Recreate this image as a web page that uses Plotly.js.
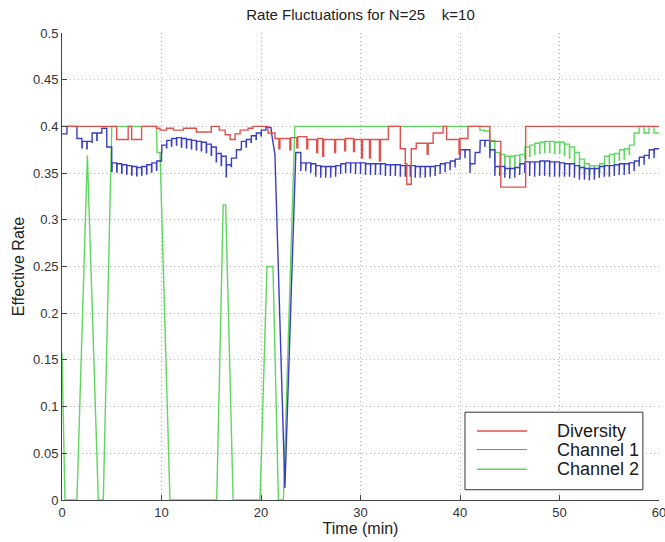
<!DOCTYPE html>
<html><head><meta charset="utf-8">
<script src="https://cdn.plot.ly/plotly-3.0.1.min.js"></script>
<style>html,body{margin:0;padding:0;background:#fff;}#chart{width:665px;height:542px;}</style>
</head><body><div id="chart"></div>
<script>
// ---------- data ----------
const seriesNames = ['Diversity', 'Channel 1', 'Channel 2'];
const seriesColors = ['#e0514d', '#3a3ec2', '#5fd65f'];
const xTickVals = [0, 10, 20, 30, 40, 50, 60];
const yTickVals = [0, 0.05, 0.1, 0.15, 0.2, 0.25, 0.3, 0.35, 0.4, 0.45, 0.5];
const yTickText = ['0', '0.05', '0.1', '0.15', '0.2', '0.25', '0.3', '0.35', '0.4', '0.45', '0.5'];

// Diversity: time (min) at which the rate changes, and the new rate
const divTime = [0, 5.5, 6.65, 7.0, 8.0, 9.5, 9.85, 10.5, 11.2, 12.2, 13.5, 15.0, 15.8, 16.4, 16.9, 17.4, 17.9, 18.7, 19.2, 20.7, 21.4,
  21.8, 21.9, 22.9, 23.0, 23.6, 23.7, 24.6, 24.7, 25.6, 25.7, 26.2, 26.3, 27.4, 27.5, 28.4, 28.5, 29.3, 29.4, 30.1, 30.2, 30.9, 31.0, 31.9, 32.0,
  32.8, 34.0, 34.5, 34.65, 35.1, 35.6, 36.7, 36.8, 37.3, 38.3, 38.65, 39.9, 40.0, 40.8, 43.0, 44.1, 46.6, 60];
const divRate = [0.4, 0.386, 0.4, 0.386, 0.4, 0.398, 0.396, 0.398, 0.396, 0.398, 0.394, 0.4, 0.396, 0.391, 0.386, 0.392, 0.396, 0.398, 0.4, 0.393, 0.387,
  0.376, 0.387, 0.375, 0.388, 0.377, 0.389, 0.376, 0.386, 0.372, 0.387, 0.368, 0.386, 0.372, 0.386, 0.374, 0.387, 0.373, 0.386, 0.366, 0.386, 0.366, 0.386, 0.363, 0.386,
  0.4, 0.376, 0.36, 0.338, 0.376, 0.382, 0.37, 0.382, 0.393, 0.4, 0.386, 0.37, 0.387, 0.4, 0.384, 0.335, 0.4, 0.4];

// Channel 1: rate on each half-minute interval (null = fading ramp), and the short dip at its start
const ch1Level = [0.392, 0.4, 0.4, 0.387, 0.384, 0.384, 0.393, 0.393, 0.398, 0.378,
  0.361, 0.36, 0.359, 0.358, 0.357, 0.356, 0.357, 0.359, 0.361, 0.363,
  0.38, 0.385, 0.387, 0.388, 0.387, 0.386, 0.385, 0.384, 0.383, 0.381,
  0.378, 0.371, 0.368, 0.359, 0.366, 0.375, 0.384, 0.386, 0.39, 0.393,
  0.396, 0.399, null, null, null, null, null, 0.372, 0.361, 0.361,
  0.36, 0.358, 0.357, 0.357, 0.357, 0.358, 0.36, 0.361, 0.361, 0.361,
  0.361, 0.36, 0.36, 0.36, 0.36, 0.359, 0.359, 0.359, 0.358, 0.358,
  0.358, 0.357, 0.357, 0.357, 0.357, 0.358, 0.36, 0.361, 0.363, 0.365,
  0.375, 0.375, 0.36, 0.372, 0.385, 0.385, 0.375, 0.357, 0.357, 0.355,
  0.355, 0.356, 0.36, 0.362, 0.362, 0.362, 0.363, 0.363, 0.362, 0.362,
  0.361, 0.36, 0.36, 0.358, 0.356, 0.355, 0.355, 0.355, 0.357, 0.358,
  0.358, 0.359, 0.36, 0.36, 0.361, 0.363, 0.367, 0.369, 0.375, 0.376];
const ch1Dip = [null, null, null, null, 0.377, 0.376, 0.383, 0.385, null, null,
  0.352, 0.351, 0.35, 0.349, 0.348, 0.347, 0.348, 0.349, 0.351, 0.353,
  0.372, 0.377, 0.379, 0.38, 0.378, 0.377, 0.376, 0.375, 0.374, 0.372,
  0.369, 0.362, 0.358, 0.346, 0.357, 0.366, 0.376, 0.378, 0.383, 0.386,
  0.39, null, null, null, null, null, null, null, 0.352, 0.352,
  0.35, 0.346, 0.345, 0.345, 0.345, 0.346, 0.349, 0.35, 0.35, 0.349,
  0.349, 0.348, 0.348, 0.348, 0.348, 0.347, 0.347, 0.347, 0.346, 0.346,
  0.346, 0.345, 0.345, 0.345, 0.346, 0.347, 0.349, 0.351, 0.353, 0.356,
  0.366, 0.366, 0.35, 0.362, 0.378, 0.378, 0.366, 0.347, 0.347, 0.345,
  0.344, 0.345, 0.348, 0.35, 0.347, 0.346, 0.347, 0.347, 0.346, 0.346,
  0.346, 0.346, 0.346, 0.345, 0.343, 0.343, 0.342, 0.343, 0.345, 0.346,
  0.346, 0.347, 0.348, 0.348, 0.349, 0.352, 0.357, 0.359, 0.365, 0.366];
// Channel 1 fade (deep drop near 22 min)
const ch1RampTime = [21.1, 21.4, 22.4, 23.5];
const ch1RampRate = [0.39, 0.37, 0.013, 0.372];

// Channel 2: sampled points up to 42 min
const ch2Time = [0, 0.3, 1.5, 2.55, 3.65, 4.15, 5.0, 9.5, 9.55, 9.85, 10.85, 15.55, 16.2, 16.45, 17.2, 19.9, 20.6, 21.2, 21.75, 22.25, 23.4, 42.0];
const ch2Rate = [0.157, 0, 0, 0.369, 0, 0, 0.4, 0.4, 0.372, 0.372, 0, 0, 0.316, 0.316, 0, 0, 0.25, 0.25, 0, 0, 0.4, 0.4];
// Channel 2 from 42 min: rate on each half-minute interval and the short dip at its start
const ch2LevelLate = [0.396, 0.395, 0.385, 0.372, 0.37, 0.368, 0.368, 0.369, 0.37, 0.378,
  0.38, 0.382, 0.383, 0.384, 0.384, 0.383, 0.383, 0.381, 0.378, 0.372,
  0.365, 0.36, 0.358, 0.358, 0.36, 0.368, 0.37, 0.371, 0.375, 0.376,
  0.38, 0.393, 0.4, 0.393, 0.4, 0.393];
const ch2DipLate = [null, null, 0.375, 0.36, 0.358, 0.356, 0.355, 0.356, 0.358, 0.366,
  0.368, 0.37, 0.371, 0.372, 0.372, 0.371, 0.371, 0.369, 0.366, 0.36,
  0.355, 0.35, 0.349, 0.349, 0.35, 0.358, 0.36, 0.36, 0.364, 0.365,
  0.37, null, null, null, null, null];

// ---------- build ----------
const interval = 0.5, dipWidth = 0.03;
function addSteps(xs, ys, start, levels, dips, rampT, rampV) {
  let rampDone = false;
  for (let i = 0; i < levels.length; i++) {
    const t = start + i * interval;
    if (levels[i] === null) {
      if (!rampDone && rampT) { for (let k = 0; k < rampT.length; k++) { xs.push(rampT[k]); ys.push(rampV[k]); } rampDone = true; }
      continue;
    }
    if (dips[i] !== null) { xs.push(t, t + dipWidth, t + dipWidth); ys.push(dips[i], dips[i], levels[i]); }
    else { xs.push(t); ys.push(levels[i]); }
    xs.push(t + interval); ys.push(levels[i]);
  }
}
const ch1X = [], ch1Y = [];
addSteps(ch1X, ch1Y, 0, ch1Level, ch1Dip, ch1RampTime, ch1RampRate);
const ch2X = ch2Time.slice(), ch2Y = ch2Rate.slice();
addSteps(ch2X, ch2Y, 42, ch2LevelLate, ch2DipLate, null, null);

const traces = [
  {x: ch2X, y: ch2Y, name: seriesNames[2], mode: 'lines', line: {color: seriesColors[2], width: 1.4}},
  {x: ch1X, y: ch1Y, name: seriesNames[1], mode: 'lines', line: {color: seriesColors[1], width: 1.4}},
  {x: divTime, y: divRate, name: seriesNames[0], mode: 'lines', line: {color: seriesColors[0], width: 1.4, shape: 'hv'}}
];

const FONT = 'Liberation Sans, Arial, Helvetica, sans-serif';
// legend drawn in axes-fraction coordinates
const legBox = {x0: 0.675, x1: 0.973, y0: 0.022, y1: 0.188};
const legRows = [0.148, 0.108, 0.066];
const shapes = [{type: 'rect', xref: 'paper', yref: 'paper', x0: legBox.x0, x1: legBox.x1, y0: legBox.y0, y1: legBox.y1,
  fillcolor: '#ffffff', line: {color: '#333', width: 1}, layer: 'above'}];
const annotations = [];
seriesNames.forEach((n, i) => {
  shapes.push({type: 'line', xref: 'paper', yref: 'paper', x0: 0.695, x1: 0.779, y0: legRows[i], y1: legRows[i],
    line: {color: seriesColors[i], width: i === 1 ? 0.7 : 1.5}, layer: 'above'});
  annotations.push({xref: 'paper', yref: 'paper', x: 0.826, y: legRows[i], xanchor: 'left', yanchor: 'middle',
    text: n, showarrow: false, font: {family: FONT, size: 18, color: '#1a1a1a'}});
});

const axisCommon = {showline: true, linecolor: '#444', linewidth: 1, ticks: 'inside', ticklen: 5, tickcolor: '#444',
  showgrid: true, gridcolor: '#b8b8b8', griddash: '1px,3px', gridwidth: 1, zeroline: false, mirror: false,
  ticklabeloverflow: 'allow', tickfont: {family: FONT, size: 13, color: '#333'}};

const layout = {
  width: 665, height: 542, paper_bgcolor: '#fff', plot_bgcolor: '#fff',
  margin: {l: 62, r: 6, t: 33, b: 42},
  showlegend: false,
  title: {text: 'Rate Fluctuations for N=25\u00a0\u00a0\u00a0\u00a0k=10', font: {family: FONT, size: 15, color: '#222'},
    x: 0.5, xref: 'paper', xanchor: 'center', y: 0.972, yref: 'container', yanchor: 'middle'},
  xaxis: Object.assign({}, axisCommon, {range: [0, 60], tickvals: xTickVals, ticktext: xTickVals.map(String),
    title: {text: 'Time (min)', font: {family: FONT, size: 16, color: '#222'}, standoff: 3}}),
  yaxis: Object.assign({}, axisCommon, {range: [0, 0.5], tickvals: yTickVals, ticktext: yTickText,
    title: {text: 'Effective Rate', font: {family: FONT, size: 16, color: '#222'}, standoff: 4}}),
  shapes: shapes, annotations: annotations
};
Plotly.newPlot('chart', traces, layout, {displayModeBar: false, staticPlot: true});
</script></body></html>
